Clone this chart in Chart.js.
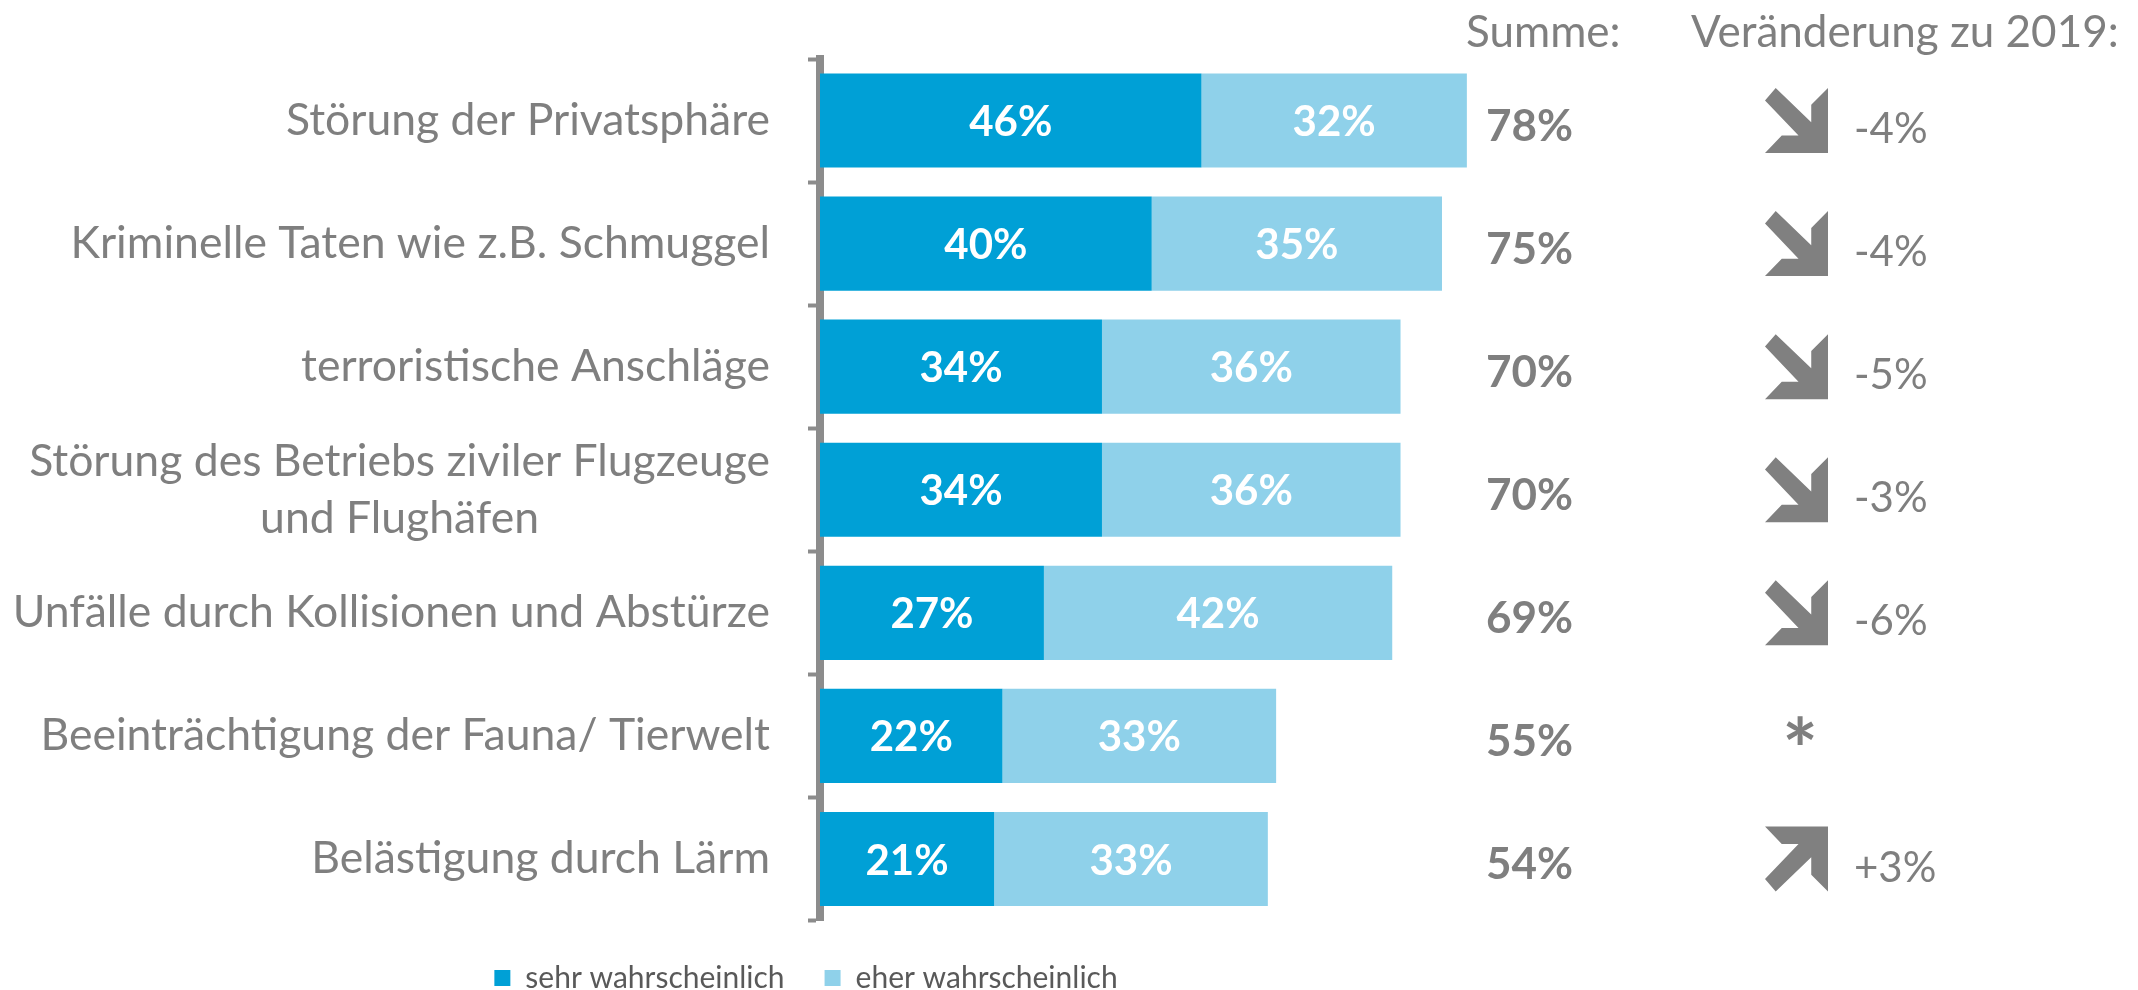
<!DOCTYPE html>
<html>
<head>
<meta charset="utf-8">
<script src="https://cdn.jsdelivr.net/npm/chart.js@4"></script>
<style>
  html, body { margin: 0; padding: 0; background: #fff; }
  #wrap { width: 2138px; height: 990px; }
</style>
</head>
<body>
<div id="wrap"><canvas id="myChart" width="2138" height="990"></canvas></div>
<script>
// data
var categories = [
  'Störung der Privatsphäre',
  'Kriminelle Taten wie z.B. Schmuggel',
  'terroristische Anschläge',
  ['Störung des Betriebs ziviler Flugzeuge', 'und Flughäfen'],
  'Unfälle durch Kollisionen und Abstürze',
  'Beeinträchtigung der Fauna/ Tierwelt',
  'Belästigung durch Lärm'
];
var sehrWahrscheinlich = [46, 40, 34, 34, 27, 22, 21];
var eherWahrscheinlich = [32, 35, 36, 36, 42, 33, 33];
var summe = [78, 75, 70, 70, 69, 55, 54];
var veraenderung = [-4, -4, -5, -3, -6, null, 3]; // null = no 2019 value (*)
var seriesLabels = ['sehr wahrscheinlich', 'eher wahrscheinlich'];
var columnHeaders = ['Summe:', 'Veränderung zu 2019:'];

var GRAY = '#7f7f7f';
var FONT = 'Lato, "Open Sans", sans-serif';

// arrow shape (down-right), unit box
var arrowShape = [[0.17, 0], [0.734, 0.526], [0.734, 0.258], [1, 0], [1, 1],
                  [0, 1], [0.266, 0.732], [0.532, 0.732], [0, 0.19]];

function drawArrow(ctx, x, yc, w, h, up) {
  var top = yc - h / 2;
  ctx.beginPath();
  arrowShape.forEach(function (p, k) {
    var py = up ? 1 - p[1] : p[1];
    if (k === 0) ctx.moveTo(x + p[0] * w, top + py * h);
    else ctx.lineTo(x + p[0] * w, top + py * h);
  });
  ctx.closePath();
  ctx.fill();
}

// white % labels inside the bars
var barValues = {
  id: 'barValues',
  afterDatasetsDraw: function (chart) {
    var ctx = chart.ctx;
    ctx.save();
    ctx.fillStyle = '#ffffff';
    ctx.font = 'bold 42px ' + FONT;
    ctx.textAlign = 'center';
    ctx.textBaseline = 'middle';
    chart.data.datasets.forEach(function (ds, di) {
      chart.getDatasetMeta(di).data.forEach(function (bar, i) {
        var c = bar.getCenterPoint();
        ctx.fillText(ds.data[i] + '%', c.x, c.y + 2);
      });
    });
    ctx.restore();
  }
};

// category labels, sums and change column
var sideText = {
  id: 'sideText',
  afterDraw: function (chart) {
    var ctx = chart.ctx;
    var y = chart.scales.y;
    ctx.save();
    ctx.fillStyle = GRAY;
    ctx.textBaseline = 'middle';

    ctx.font = '44.5px ' + FONT;
    categories.forEach(function (cat, i) {
      var yc = y.getPixelForValue(i);
      if (!Array.isArray(cat)) {
        ctx.textAlign = 'right';
        ctx.fillText(cat, 770, yc);
      } else {
        var w = Math.max.apply(null, cat.map(function (l) { return ctx.measureText(l).width; }));
        ctx.textAlign = 'center';
        cat.forEach(function (l, k) {
          ctx.fillText(l, 770 - w / 2, yc + (k - (cat.length - 1) / 2) * 57);
        });
      }
    });

    // headers
    ctx.textAlign = 'left';
    ctx.textBaseline = 'alphabetic';
    ctx.font = '44px ' + FONT;
    ctx.fillText(columnHeaders[0], 1466, 47);
    ctx.fillText(columnHeaders[1], 1691, 47);

    ctx.textBaseline = 'middle';
    summe.forEach(function (s, i) {
      var yc = y.getPixelForValue(i);
      ctx.font = 'bold 44px ' + FONT;
      ctx.textAlign = 'left';
      ctx.fillText(s + '%', 1486, yc + 6);

      var v = veraenderung[i];
      if (v === null) {
        ctx.font = 'bold 84px ' + FONT;
        ctx.textAlign = 'center';
        ctx.fillText('*', 1800, yc + 17);
        return;
      }
      ctx.fillStyle = '#808080';
      drawArrow(ctx, 1765, yc, 63, 65, v > 0);
      ctx.fillStyle = GRAY;
      ctx.font = '42px ' + FONT;
      ctx.textAlign = 'left';
      ctx.fillText((v > 0 ? '+' : '') + v + '%', 1854, yc + 9);
    });
    ctx.restore();
  }
};

var ctx = document.getElementById('myChart').getContext('2d');
var myChart = new Chart(ctx, {
  type: 'bar',
  data: {
    labels: categories,
    datasets: [{
      label: seriesLabels[0],
      data: sehrWahrscheinlich,
      backgroundColor: '#00a0d6',
      barPercentage: 0.765,
      categoryPercentage: 1
    }, {
      label: seriesLabels[1],
      data: eherWahrscheinlich,
      backgroundColor: '#8fd1ea',
      barPercentage: 0.765,
      categoryPercentage: 1
    }]
  },
  options: {
    indexAxis: 'y',
    responsive: false,
    animation: false,
    devicePixelRatio: 1,
    layout: { padding: { left: 0, right: 526, top: 59, bottom: -13 } },
    scales: {
      x: {
        stacked: true,
        min: 0,
        max: 95.5,
        ticks: { display: false },
        grid: { display: false },
        border: { display: false },
        afterFit: function (s) { s.height = 2.5; }
      },
      y: {
        stacked: true,
        offset: true,
        ticks: { display: false },
        grid: {
          offset: true,
          drawOnChartArea: false,
          drawTicks: true,
          tickLength: 12,
          tickWidth: 4,
          tickColor: '#8c8c8c'
        },
        border: { display: true, color: '#8c8c8c', width: 8 },
        afterFit: function (s) { s.width = 820; }
      }
    },
    plugins: {
      legend: {
        position: 'bottom',
        labels: {
          boxWidth: 16,
          boxHeight: 16,
          padding: 40,
          color: '#595959',
          font: { family: FONT, size: 30 }
        }
      },
      tooltip: { enabled: false }
    }
  },
  plugins: [barValues, sideText]
});
</script>
</body>
</html>
